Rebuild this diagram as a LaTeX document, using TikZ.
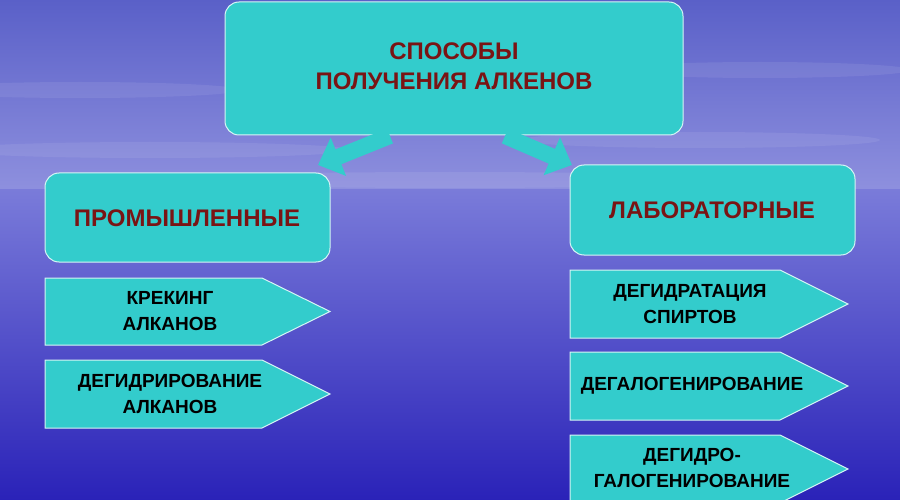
\documentclass[tikz,border=0pt]{standalone}
\usepackage{fontspec}
\setmainfont{Liberation Sans}
\usetikzlibrary{arrows.meta}
\definecolor{tq}{HTML}{33CCCC}
\definecolor{dred}{HTML}{7A1414}
\definecolor{skyA}{HTML}{5A60C8}
\definecolor{skyB}{HTML}{8E90DE}
\definecolor{seaA}{HTML}{4A4ACF}
\definecolor{seaB}{HTML}{2A22B8}
\tikzset{
 box/.style={fill=tq,draw=white!80!tq,line width=1pt,rounded corners=14pt},
 head/.style={font=\bfseries\fontsize{24}{30}\selectfont,text=dred,align=center},
 lab/.style={font=\bfseries\fontsize{19}{26}\selectfont,text=black,align=center},
 barrow/.style={-{Triangle[length=22pt,width=40pt]},line width=16pt,tq}
}
\begin{document}
\begin{tikzpicture}[x=1pt,y=-1pt]
\useasboundingbox (0,0) rectangle (900,500);
\shade[top color=skyA,bottom color=skyB] (0,0) rectangle (900,190);
\shade[top color=skyB!70!seaA,bottom color=seaB] (0,190) rectangle (900,500);
\foreach \x/\y/\w in {80/90/160,760/70/150,150/150/200,700/140/180,450/180/300}
  \fill[white,opacity=0.08] (\x,\y) ellipse (\w pt and 8pt);
\draw[box] (225,2) rectangle (683,135);
\node[head] (top) at (454,66) {СПОСОБЫ\\ПОЛУЧЕНИЯ АЛКЕНОВ};
\draw[box] (45,173) rectangle (330,262);
\node[head] (ind) at (187,218) {ПРОМЫШЛЕННЫЕ};
\draw[box] (570,165) rectangle (855,255);
\node[head] (lab) at (712,210) {ЛАБОРАТОРНЫЕ};
\coordinate (la) at (390,136); \coordinate (lb) at (318,165);
\coordinate (ra) at (505,136); \coordinate (rb) at (572,165);
\draw[barrow] (la) -- (lb);
\draw[barrow] (ra) -- (rb);
\newcommand{\pent}[4]{%
 \draw[fill=tq,draw=white!80!tq,line width=1pt] (#1,#2) -- (#3-68,#2) -- (#3,#2/2+#4/2) -- (#3-68,#4) -- (#1,#4) -- cycle;}
\pent{45}{278}{330}{345}
\node[lab] (p1) at (170,311) {КРЕКИНГ\\АЛКАНОВ};
\pent{45}{360}{330}{428}
\node[lab] (p2) at (170,394) {ДЕГИДРИРОВАНИЕ\\АЛКАНОВ};
\pent{570}{270}{848}{338}
\node[lab] (q1) at (690,304) {ДЕГИДРАТАЦИЯ\\СПИРТОВ};
\pent{570}{352}{848}{420}
\node[lab] (q2) at (692,386) {ДЕГАЛОГЕНИРОВАНИЕ};
\pent{570}{435}{848}{503}
\node[lab] (q3) at (692,468) {ДЕГИДРО-\\ГАЛОГЕНИРОВАНИЕ};
\end{tikzpicture}
\end{document}
